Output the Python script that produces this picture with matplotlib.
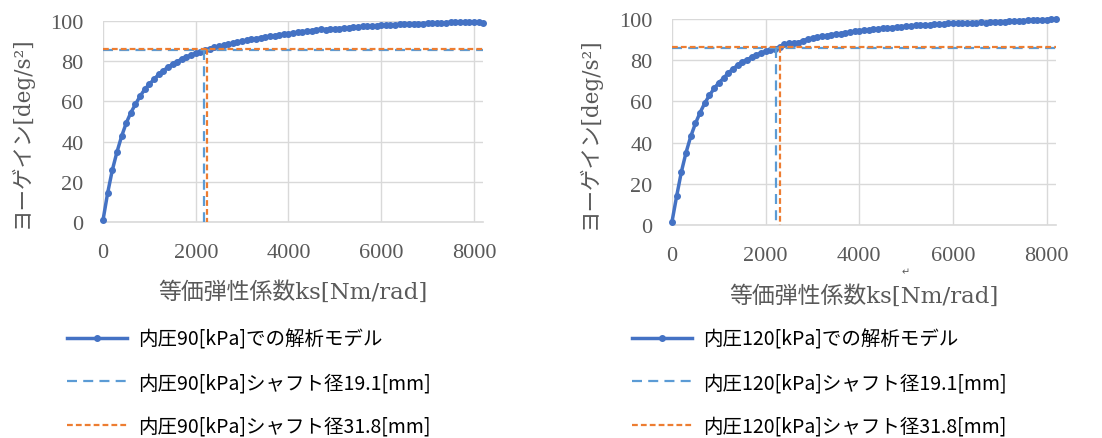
import matplotlib
matplotlib.use("Agg")
import matplotlib.pyplot as plt
import numpy as np

# equivalent stiffness ks [Nm/rad], one point every 100
ks = list(range(0, 8300, 100))

# yaw gain [deg/s^2]
gain_90 = [
    1.0, 14.5, 25.8, 34.8, 42.6, 49.2, 54.4, 58.6, 62.6, 66.0,
    68.6, 71.0, 73.4, 75.3, 77.0, 78.5, 79.8, 81.0, 82.0, 83.0,
    83.9, 84.7, 85.5, 86.2, 86.8, 87.4, 87.9, 88.4, 88.9, 89.4,
    89.9, 90.3, 90.8, 91.2, 91.6, 92.0, 92.4, 92.7, 93.0, 93.4,
    93.7, 94.0, 94.3, 94.6, 94.9, 95.2, 95.5, 95.9, 95.7, 95.8,
    96.0, 96.2, 96.5, 96.7, 96.9, 97.1, 97.3, 97.4, 97.6, 97.7,
    97.9, 98.0, 98.1, 98.2, 98.3, 98.4, 98.5, 98.6, 98.6, 98.7,
    98.8, 98.8, 98.8, 98.9, 98.9, 99.6, 99.3, 99.3, 99.3, 99.4,
    99.6, 99.4, 98.9,
]
gain_120 = [
    1.6, 14.1, 25.8, 35.2, 43.0, 49.3, 54.6, 59.2, 63.0, 66.3,
    69.2, 71.2, 73.9, 75.7, 77.6, 79.2, 80.3, 81.4, 82.5, 83.5,
    84.3, 85.0, 85.7, 86.5, 87.7, 88.4, 88.3, 88.6, 89.6, 90.2,
    90.8, 91.1, 91.6, 92.0, 92.4, 92.7, 93.0, 93.3, 93.7, 94.0,
    94.4, 94.6, 94.8, 95.0, 95.3, 95.5, 95.7, 95.9, 96.1, 96.3,
    96.5, 96.7, 96.9, 97.0, 97.2, 97.3, 97.5, 97.6, 97.8, 97.9,
    98.0, 98.0, 98.1, 98.0, 98.2, 98.2, 98.4, 98.3, 98.5, 98.6,
    98.7, 98.8, 98.9, 99.0, 99.1, 99.2, 99.4, 99.5, 99.6, 99.7,
    99.8, 99.9, 100.2,
]

# shaft diameter reference lines: (ks, gain)
shaft_90 = {"19.1": (2180, 85.7), "31.8": (2250, 86.1)}
shaft_120 = {"19.1": (2220, 86.2), "31.8": (2300, 86.5)}

pressures = ["90", "120"]
x_ticks = [0, 2000, 4000, 6000, 8000]
y_ticks = [0, 20, 40, 60, 80, 100]

MAIN_BLUE = "#4472C4"
LIGHT_BLUE = "#5B9BD5"
ORANGE = "#ED7D31"
GRID = "#D9D9D9"
TEXT_GRAY = "#595959"

TICK_FONT = ["Liberation Serif", "Noto Sans CJK JP"]
LABEL_FONT = ["DejaVu Serif", "Noto Sans CJK JP"]
SANS = ["Noto Sans CJK JP", "DejaVu Sans"]

fig = plt.figure(figsize=(11.02, 4.39), dpi=100)
ax_left = fig.add_axes([0.0935, 0.492, 0.345, 0.458])
ax_right = fig.add_axes([0.6098, 0.4852, 0.3485, 0.469])

panels = [
    (ax_left, gain_90, shaft_90, pressures[0], (0.061, 0.249), -0.29),
    (ax_right, gain_120, shaft_120, pressures[1], (0.5735, 0.249), -0.286),
]

for ax, gain, shaft, p, leg_pos, xlab_y in panels:
    x_max = ks[-1]
    line_main, = ax.plot(ks, gain, color=MAIN_BLUE, lw=2.5, marker="o",
                         markersize=4.0, clip_on=False, zorder=3,
                         label=f"内圧{p}[kPa]での解析モデル")
    xb, yb = shaft["19.1"]
    line_b, = ax.plot([0, x_max, np.nan, xb, xb], [yb, yb, np.nan, yb, 0],
                      color=LIGHT_BLUE, lw=1.6, dashes=(4.5, 2.8), zorder=4,
                      label=f"内圧{p}[kPa]シャフト径19.1[mm]")
    xo, yo = shaft["31.8"]
    line_o, = ax.plot([0, x_max, np.nan, xo, xo], [yo, yo, np.nan, yo, 0],
                      color=ORANGE, lw=1.6, dashes=(2.6, 1.4), zorder=4,
                      label=f"内圧{p}[kPa]シャフト径31.8[mm]")

    ax.set_xlim(0, x_max)
    ax.set_ylim(0, 100)
    ax.set_xticks(x_ticks)
    ax.set_yticks(y_ticks)
    ax.grid(True, color=GRID, lw=1.0)
    ax.set_axisbelow(True)
    for side in ["top", "right", "left"]:
        ax.spines[side].set_visible(False)
    ax.spines["bottom"].set_color(GRID)
    ax.spines["bottom"].set_linewidth(1.2)
    ax.tick_params(length=0, labelcolor=TEXT_GRAY, labelsize=16)
    ax.tick_params(axis="y", pad=14)
    ax.tick_params(axis="x", pad=15)
    for lbl in ax.get_xticklabels() + ax.get_yticklabels():
        lbl.set_family(TICK_FONT)

    ax.set_xlabel("等価弾性係数ks[Nm/rad]", family=LABEL_FONT, fontsize=16.5,
                  color=TEXT_GRAY)
    ax.xaxis.set_label_coords(0.5, xlab_y)
    ax.set_ylabel("ヨーゲイン[deg/s²]", family=LABEL_FONT, fontsize=15.5,
                  color=TEXT_GRAY)
    ax.yaxis.set_label_coords(-0.185, 0.45)

    fig.legend(handles=[line_main, line_b, line_o], loc="upper left",
               bbox_to_anchor=leg_pos, frameon=False, borderpad=0,
               borderaxespad=0, handlelength=3.1, handletextpad=0.55,
               labelspacing=1.15, prop={"family": SANS, "size": 14})

# stray return mark under the right panel
fig.text(906 / 1102, 1 - 272 / 439, "↵", fontsize=7, color=TEXT_GRAY,
         ha="center", va="center")

fig.savefig("out.png", dpi=100)
